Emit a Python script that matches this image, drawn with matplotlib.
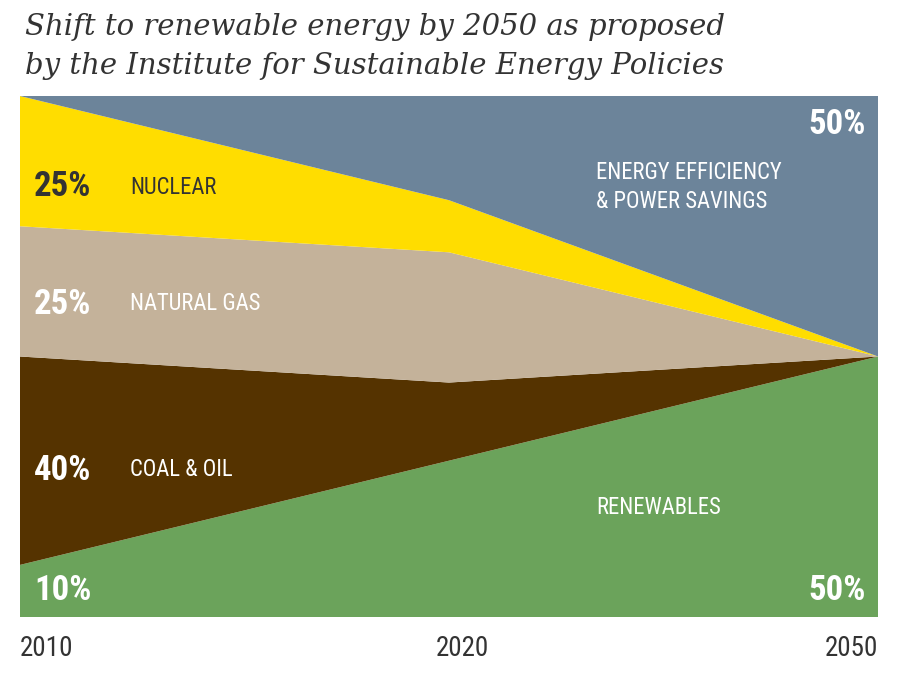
import numpy as np
import matplotlib.pyplot as plt
from matplotlib import font_manager

# Shares of energy supply (%)
years = ['2010', '2020', '2050']
renewables = [10, 30, 50]
coal_oil = [40, 15, 0]
natural_gas = [25, 25, 0]
nuclear = [25, 10, 0]
efficiency = [0, 20, 50]

colors = ['#6ba35b', '#553300', '#c4b29a', '#ffdd00', '#6c849a']

names = {f.name for f in font_manager.fontManager.ttflist}
narrow = next((n for n in ['Roboto Condensed', 'Liberation Sans Narrow',
                           'DejaVu Sans Condensed'] if n in names), 'Roboto')
serif = 'DejaVu Serif Condensed' if 'DejaVu Serif Condensed' in names else 'DejaVu Serif'

fig = plt.figure(figsize=(9, 6.75), dpi=100)
ax = fig.add_axes([20 / 900, 58 / 675, 858 / 900, 521 / 675])

x = np.arange(len(years))
ax.stackplot(x, renewables, coal_oil, natural_gas, nuclear, efficiency,
             colors=colors, linewidth=0)
ax.set_xlim(0, 2)
ax.set_ylim(0, 100)
ax.set_xticks([])
ax.set_yticks([])
for s in ax.spines.values():
    s.set_visible(False)

# year labels under the plot
for xi, yr, ha, dx in zip(x, years, ['left', 'center', 'right'], [0, 13, 0]):
    ax.annotate(yr, (xi, 0), xytext=(dx, -31), textcoords='offset pixels',
                ha=ha, va='center', fontfamily=narrow, fontsize=19.5,
                color='#333333', annotation_clip=False)

def px(xp, yp):
    return (xp - 20) / 429, (617 - yp) / 5.21

big = dict(fontfamily=narrow, fontsize=25, fontweight='bold', va='center')
small = dict(fontfamily=narrow, fontsize=16.3, va='center')

ax.text(*px(34, 187), f'{nuclear[0]}%', color='#333333', **big)
ax.text(*px(130, 187), 'NUCLEAR', color='#333333', **small)
ax.text(*px(34, 304), f'{natural_gas[0]}%', color='white', **big)
ax.text(*px(130, 304), 'NATURAL GAS', color='white', **small)
ax.text(*px(34, 470), f'{coal_oil[0]}%', color='white', **big)
ax.text(*px(130, 470), 'COAL & OIL', color='white', **small)
ax.text(*px(34, 591), f'{renewables[0]}%', color='white', **big)
ax.text(*px(866, 591), f'{renewables[-1]}%', color='white', ha='right', **big)
ax.text(*px(866, 124), f'{efficiency[-1]}%', color='white', ha='right', **big)
ax.text(*px(596, 187), 'ENERGY EFFICIENCY\n& POWER SAVINGS', color='white',
        linespacing=1.35, **small)
ax.text(*px(596, 507), 'RENEWABLES', color='white', **small)

fig.text(25 / 900, 1 - 13 / 675,
         'Shift to renewable energy by 2050 as proposed\n'
         'by the Institute for Sustainable Energy Policies',
         fontfamily=serif, fontstyle='italic',
         fontsize=24 if serif.endswith('Condensed') else 21,
         color='#333333', va='top', ha='left', linespacing=1.5)

fig.savefig('out.png', dpi=100)
